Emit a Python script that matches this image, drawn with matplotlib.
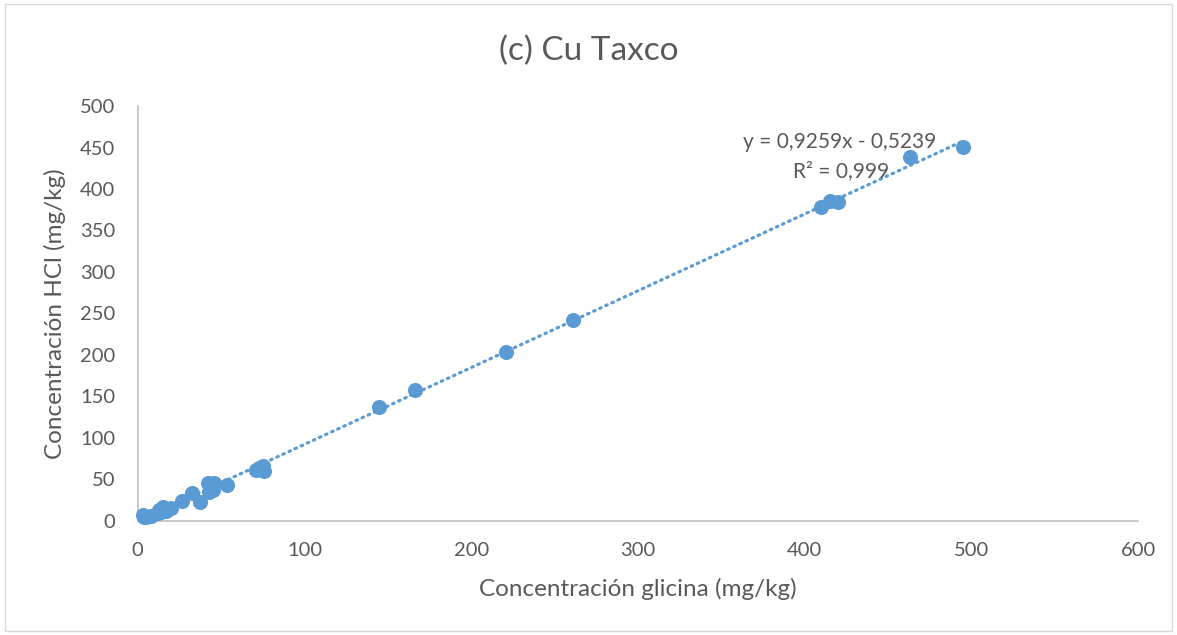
import numpy as np
import matplotlib
matplotlib.use("Agg")
import matplotlib.pyplot as plt

# data
glicina = [3, 4, 5, 8, 12, 13, 14, 15, 17, 20, 26.5, 32.5, 37.5, 42, 43, 45, 46, 53.5,
           71, 73, 75, 76, 145, 166, 221, 261, 410, 415, 420, 463, 495]
hcl = [7, 4.5, 4, 6, 9, 13, 11, 17, 12, 15.5, 23.5, 34, 22, 45.5, 35, 37, 45.5, 43.5,
       61.5, 63.5, 65.5, 59.5, 137, 158, 204, 242, 378, 385.5, 384, 438.5, 451]
slope = 0.9259
intercept = -0.5239

blue = "#5B9BD5"
grey = "#595959"
plt.rcParams['font.family'] = ['Lato', 'DejaVu Sans']

fig = plt.figure(figsize=(11.77, 6.35), dpi=100)
ax = fig.add_axes([0.117, 0.180, 0.850, 0.653])

ax.scatter(glicina, hcl, s=118, color=blue, zorder=3, linewidths=0, clip_on=False)
xs = np.array([min(glicina), max(glicina)])
ax.plot(xs, slope * xs + intercept, color=blue, lw=2.3, ls=(0, (0.5, 1.6)),
        dash_capstyle='round', zorder=2)

ax.set_xlim(0, 600)
ax.set_ylim(0, 500)
ax.set_xticks(range(0, 601, 100))
ax.set_yticks(range(0, 501, 50))
ax.tick_params(axis='y', length=0, labelsize=14.5, colors=grey, pad=16)
ax.tick_params(axis='x', length=0, labelsize=14.5, colors=grey, pad=15)
for s in ["top", "right"]:
    ax.spines[s].set_visible(False)
for s in ["left", "bottom"]:
    ax.spines[s].set_color("#BFBFBF")
    ax.spines[s].set_linewidth(1.2)

ax.set_xlabel("Concentración glicina (mg/kg)", fontsize=17.5, color=grey, labelpad=14)
ax.set_ylabel("Concentración HCl (mg/kg)", fontsize=17.5, color=grey, labelpad=10)
fig.text(0.5, 0.92, "(c) Cu Taxco", ha="center", va="center", fontsize=24, color=grey)

ax.text(421, 456.5, "y = 0,9259x - 0,5239", ha="center", va="center", fontsize=15, color=grey)
ax.text(450.5, 421.5, "R² = 0,999", ha="right", va="center", fontsize=15, color=grey)

fig.patches.append(plt.Rectangle((0.004, 0.006), 0.992, 0.988, transform=fig.transFigure,
                                 fill=False, edgecolor="#D9D9D9", lw=1))

plt.savefig("out.png", format="png", dpi=100)
